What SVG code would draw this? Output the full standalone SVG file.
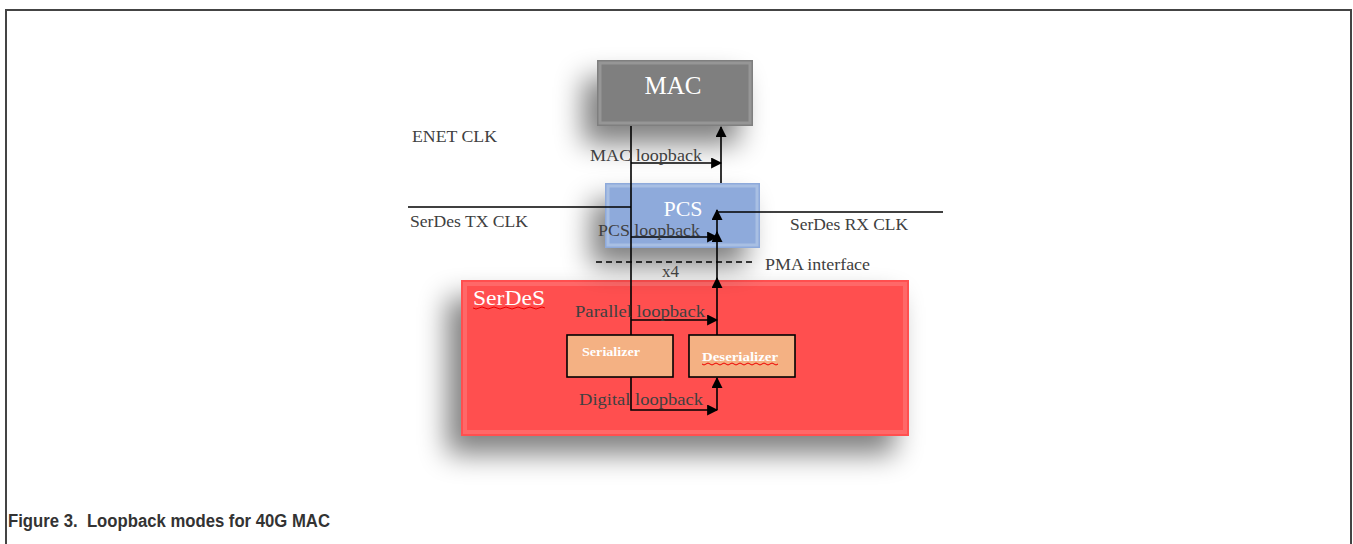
<svg xmlns="http://www.w3.org/2000/svg" width="1353" height="544" viewBox="0 0 1353 544">
  <style>
    .lbl { font-family: "Liberation Serif", "DejaVu Serif", serif; font-size: 17px; fill: #404040; }
    .title { font-family: "Liberation Serif", "DejaVu Serif", serif; fill: #ffffff; }
    .wire { stroke: #000; stroke-width: 1.6; fill: none; }
    .flow { stroke: #000; stroke-width: 1.6; fill: none; marker-end: url(#arrow); }
    .cap { font-family: "Liberation Sans", Arial, sans-serif; font-weight: bold; font-size: 17.5px; fill: #333; }
  </style>
  <defs>
    <marker id="arrow" viewBox="0 0 10 10" refX="9" refY="5" markerWidth="13" markerHeight="11" markerUnits="userSpaceOnUse" orient="auto">
      <path d="M0,0 L10,5 L0,10 Z" fill="#000"/>
    </marker>
    <filter id="shadow" x="-40%" y="-70%" width="180%" height="260%">
      <feGaussianBlur in="SourceAlpha" stdDeviation="14"/>
      <feOffset dx="-14" dy="18" result="b"/>
      <feComponentTransfer><feFuncA type="linear" slope="0.5"/></feComponentTransfer>
      <feMerge><feMergeNode/><feMergeNode in="SourceGraphic"/></feMerge>
    </filter>
  </defs>

  <!-- frame -->
  <path d="M6,544 V10 H1351 V544" fill="none" stroke="#444" stroke-width="2"/>

  <g id="serdes">
    <rect x="461" y="280" width="448" height="156" fill="#ff5050" filter="url(#shadow)"/>
    <rect x="465" y="284" width="440" height="148" fill="none" stroke="#ff7a7a" stroke-width="4" opacity="0.6"/>
    <text class="title" x="473" y="305" font-size="21" textLength="72" lengthAdjust="spacingAndGlyphs">SerDeS</text>
    <path d="M473,308 q3,2 6,0 t6,0 t6,0 t6,0 t6,0 t6,0 t6,0 t6,0 t6,0 t6,0 t6,0 t6,0" fill="none" stroke="#e00" stroke-width="1"/>
  </g>

  <g id="mac">
    <rect x="597" y="60" width="156" height="66" fill="#7f7f7f" filter="url(#shadow)"/>
    <rect x="600" y="63" width="150" height="60" fill="none" stroke="#a0a0a0" stroke-width="3" opacity="0.7"/>
    <text class="title" x="673" y="94" font-size="25" text-anchor="middle">MAC</text>
  </g>

  <g id="pcs">
    <rect x="605" y="183" width="155" height="65" fill="#8eaadb" filter="url(#shadow)"/>
    <rect x="608" y="186" width="149" height="59" fill="none" stroke="#b4c7e7" stroke-width="3" opacity="0.7"/>
    <text class="title" x="683" y="216" font-size="22" text-anchor="middle">PCS</text>
  </g>

  <g id="serializer">
    <rect x="567" y="335" width="106" height="42" fill="#f4b183" stroke="#000" stroke-width="1.6"/>
    <text class="title" x="582" y="356" font-size="13.5" font-weight="bold" textLength="58" lengthAdjust="spacingAndGlyphs">Serializer</text>
  </g>

  <g id="deserializer">
    <rect x="689" y="335" width="106" height="42" fill="#f4b183" stroke="#000" stroke-width="1.6"/>
    <text class="title" x="702" y="361" font-size="13.5" font-weight="bold" textLength="76" lengthAdjust="spacingAndGlyphs">Deserializer</text>
    <path d="M702,364 q2,2 4,0 t4,0 t4,0 t4,0 t4,0 t4,0 t4,0 t4,0 t4,0 t4,0 t4,0 t4,0 t4,0 t4,0 t4,0 t4,0 t4,0 t4,0 t4,0" fill="none" stroke="#e00" stroke-width="1"/>
  </g>

  <g id="connectors">
    <!-- transmit path -->
    <path class="wire" d="M631,126 V335"/>
    <path class="wire" d="M408,207 H631"/>
    <!-- receive path and clock -->
    <path class="wire" d="M717,212 H943"/>
    <path class="flow" d="M717,335 V278"/>
    <path class="flow" d="M717,280 V232"/>
    <path class="flow" d="M717,234 V210"/>
    <!-- loopbacks -->
    <path class="flow" d="M631,163 H721"/>
    <path class="flow" d="M721,183 V127"/>
    <path class="flow" d="M631,237 H717"/>
    <path class="flow" d="M631,320 H717"/>
    <path class="flow" d="M631,377 V410 H717"/>
    <path class="flow" d="M717,410 V378"/>
    <!-- PMA interface -->
    <path d="M596,262 H755" stroke="#000" stroke-width="1.4" stroke-dasharray="6,4" fill="none"/>
  </g>

  <g id="labels">
    <text class="lbl" x="412" y="142" textLength="85" lengthAdjust="spacingAndGlyphs">ENET CLK</text>
    <text class="lbl" x="590" y="161" textLength="112" lengthAdjust="spacingAndGlyphs">MAC loopback</text>
    <text class="lbl" x="410" y="227" textLength="118" lengthAdjust="spacingAndGlyphs">SerDes TX CLK</text>
    <text class="lbl" x="790" y="230" textLength="118" lengthAdjust="spacingAndGlyphs">SerDes RX CLK</text>
    <text class="lbl" x="598" y="236" textLength="102" lengthAdjust="spacingAndGlyphs">PCS loopback</text>
    <text class="lbl" x="765" y="270" textLength="105" lengthAdjust="spacingAndGlyphs">PMA interface</text>
    <text class="lbl" x="662" y="277" fill="#000">x4</text>
    <text class="lbl" x="575" y="317" textLength="130" lengthAdjust="spacingAndGlyphs">Parallel loopback</text>
    <text class="lbl" x="579" y="405" textLength="124" lengthAdjust="spacingAndGlyphs">Digital loopback</text>
  </g>

  <text class="cap" x="8" y="527" xml:space="preserve" textLength="322" lengthAdjust="spacingAndGlyphs">Figure 3.  Loopback modes for 40G MAC</text>
</svg>
